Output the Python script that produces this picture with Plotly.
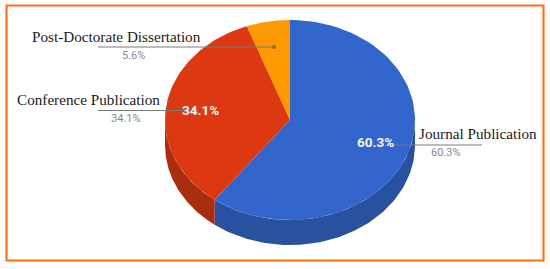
import numpy as np
import plotly.graph_objects as go

categories = ["Journal Publication", "Conference Publication", "Post-Doctorate Dissertation"]
shares = [60.3, 34.1, 5.6]
face_colors = ["#3366CC", "#DC3912", "#FF9900"]
side_colors = ["#28519F", "#A92D0E", "#B36B00"]

# label layout: (name x, name y, value x, value y, line x0, line x1, line y)
label_layout = {
    "Journal Publication": (478, 133, 446, 152, 388, 482, 145),
    "Conference Publication": (88, 99, 126, 118, 98, 198, 110.5),
    "Post-Doctorate Dissertation": (116.5, 36, 133, 55, 98, 274, 47),
}
inner_labels = {"Journal Publication": (375, 142), "Conference Publication": (200, 110)}

CX, CY, RX, RY, DEPTH = 290, 120, 125, 100, 25


def rim(a0, a1, n=90):
    t = np.radians(np.linspace(a0, a1, n))
    return CX + RX * np.sin(t), CY - RY * np.cos(t)


fig = go.Figure()
edges = np.concatenate([[0], np.cumsum(shares)]) * 3.6

# extruded side wall: only the front half (90-270 degrees) is visible
for i, name in enumerate(categories):
    a0, a1 = max(edges[i], 90), min(edges[i + 1], 270)
    if a1 <= a0:
        continue
    x, y = rim(a0, a1)
    fig.add_trace(go.Scatter(
        x=np.concatenate([x, x[::-1]]),
        y=np.concatenate([y, y[::-1] + DEPTH]),
        mode="lines", fill="toself", fillcolor=side_colors[i],
        line=dict(width=0, color=side_colors[i]), hoverinfo="skip", showlegend=False,
    ))

# top faces
for i, name in enumerate(categories):
    x, y = rim(edges[i], edges[i + 1])
    fig.add_trace(go.Scatter(
        x=np.concatenate([[CX], x, [CX]]),
        y=np.concatenate([[CY], y, [CY]]),
        mode="lines", fill="toself", fillcolor=face_colors[i],
        line=dict(width=0, color=face_colors[i]), name=name,
        hoverinfo="name", showlegend=False,
    ))

shapes = [dict(type="rect", xref="x", yref="y", x0=6.5, x1=543.5, y0=5.5, y1=260.5,
               line=dict(color="#FF6F1A", width=2.2), fillcolor="rgba(0,0,0,0)", layer="below")]
annotations = []

for name, share in zip(categories, shares):
    nx, ny, vx, vy, lx0, lx1, ly = label_layout[name]
    shapes.append(dict(type="line", xref="x", yref="y", x0=lx0, x1=lx1, y0=ly, y1=ly,
                       line=dict(color="#7A7A7A", width=1)))
    annotations.append(dict(x=nx, y=ny, text=name, showarrow=False, xanchor="center", yanchor="middle",
                            font=dict(family="Liberation Serif", size=15.2, color="#1A1A1A")))
    annotations.append(dict(x=vx, y=vy, text=f"{share}%", showarrow=False, xanchor="center", yanchor="middle",
                            font=dict(family="Roboto", size=11, color="#85898F")))
    if name in inner_labels:
        ix, iy = inner_labels[name]
        annotations.append(dict(x=ix, y=iy, text=f"<b>{share}%</b>", showarrow=False,
                                xanchor="center", yanchor="middle",
                                font=dict(family="Roboto", size=13.5, color="#F2F2F2")))

# small dot at the end of the dissertation leader
fig.add_trace(go.Scatter(x=[274], y=[47], mode="markers",
                         marker=dict(size=4, color="#8A6A2A"), hoverinfo="skip", showlegend=False))

fig.update_layout(
    width=550, height=269, autosize=False,
    margin=dict(l=0, r=0, t=0, b=0),
    paper_bgcolor="white", plot_bgcolor="white",
    xaxis=dict(range=[0, 550], visible=False, fixedrange=True),
    yaxis=dict(range=[269, 0], visible=False, fixedrange=True),
    shapes=shapes, annotations=annotations, showlegend=False,
)
fig.write_html("out.html", config={"displayModeBar": False},
               post_script="document.body.style.margin='0';document.documentElement.style.overflow='hidden';")
